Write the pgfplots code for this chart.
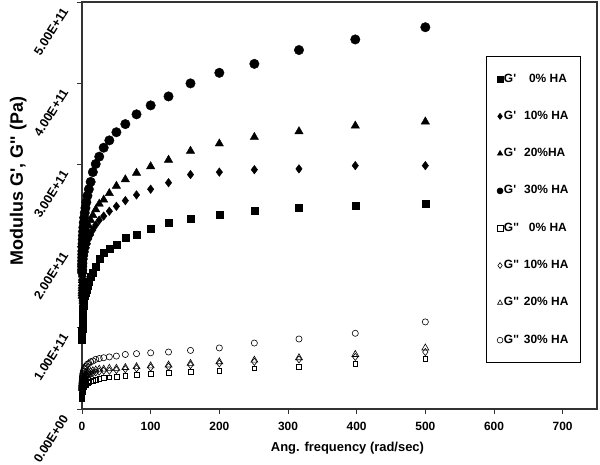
\documentclass[border=0pt]{standalone}
\usepackage{fontspec}
\setmainfont{Liberation Sans}
\usepackage{pgfplots}
\usepackage{pgfplotstable}
\pgfplotsset{compat=1.18}
\newcommand{\q}{\textquotesingle}

% y values in units of 1E+11 Pa
\pgfplotstableread{
f Gp0 Gp10 Gp20 Gp30 Gpp0 Gpp10 Gpp20 Gpp30
500 2.52 2.99 3.53 4.69 0.62 0.70 0.75 1.07
398 2.50 2.99 3.48 4.54 0.56 0.64 0.67 0.93
316 2.47 2.95 3.41 4.41 0.52 0.61 0.63 0.86
251 2.43 2.94 3.34 4.24 0.50 0.58 0.60 0.81
200 2.39 2.91 3.26 4.13 0.47 0.56 0.58 0.75
158 2.34 2.88 3.17 4.00 0.46 0.54 0.56 0.72
126 2.29 2.78 3.06 3.84 0.44 0.52 0.54 0.70
100 2.21 2.70 2.98 3.73 0.43 0.51 0.53 0.69
79.4 2.14 2.63 2.90 3.62 0.42 0.50 0.52 0.68
63.1 2.10 2.56 2.82 3.50 0.41 0.49 0.51 0.67
50.1 2.02 2.49 2.74 3.40 0.40 0.48 0.50 0.65
39.8 1.97 2.43 2.65 3.30 0.39 0.47 0.50 0.64
31.6 1.92 2.37 2.57 3.21 0.38 0.47 0.49 0.63
25.1 1.85 2.32 2.52 3.10 0.37 0.46 0.49 0.62
20.0 1.75 2.26 2.45 3.01 0.36 0.45 0.48 0.61
15.8 1.68 2.20 2.38 2.91 0.35 0.44 0.47 0.59
12.6 1.62 2.14 2.32 2.79 0.34 0.43 0.46 0.58
10.0 1.57 2.09 2.25 2.70 0.33 0.42 0.45 0.56
7.94 1.52 2.03 2.19 2.62 0.32 0.41 0.44 0.55
6.31 1.47 1.98 2.13 2.54 0.31 0.40 0.43 0.53
5.01 1.43 1.93 2.07 2.47 0.30 0.39 0.42 0.52
3.98 1.39 1.88 2.02 2.41 0.29 0.38 0.41 0.50
3.16 1.35 1.84 1.97 2.35 0.28 0.37 0.40 0.49
2.51 1.31 1.79 1.92 2.29 0.27 0.36 0.39 0.47
2.00 1.27 1.75 1.87 2.23 0.26 0.35 0.38 0.46
1.58 1.23 1.71 1.82 2.18 0.25 0.34 0.37 0.44
1.26 1.19 1.67 1.78 2.13 0.24 0.33 0.36 0.43
1.00 1.16 1.63 1.73 2.08 0.23 0.32 0.35 0.41
0.794 1.12 1.59 1.69 2.03 0.22 0.31 0.34 0.40
0.631 1.09 1.55 1.65 1.99 0.21 0.30 0.33 0.38
0.501 1.05 1.52 1.61 1.94 0.20 0.29 0.32 0.37
0.398 1.02 1.48 1.58 1.90 0.19 0.28 0.31 0.35
0.316 0.99 1.45 1.54 1.86 0.18 0.27 0.30 0.34
0.251 0.96 1.42 1.51 1.82 0.17 0.26 0.29 0.32
0.200 0.93 1.39 1.48 1.78 0.16 0.25 0.28 0.31
0.158 0.90 1.36 1.45 1.75 0.15 0.24 0.27 0.29
0.126 0.88 1.33 1.42 1.71 0.14 0.23 0.26 0.28
0.100 0.85 1.30 1.39 1.68 0.13 0.22 0.25 0.26
}\data

\begin{document}
\begin{tikzpicture}
\useasboundingbox (-82bp,-56bp) rectangle (518bp,409bp);
\begin{axis}[
  at={(0,0)}, anchor=south west,
  scale only axis, width=515bp, height=407bp,
  xmin=0, xmax=750, ymin=0, ymax=5,
  xtick={0,100,...,700}, ytick={0,1,...,5},
  yticklabels={0.00E+00,1.00E+11,2.00E+11,3.00E+11,4.00E+11,5.00E+11},
  tick pos=left, tick align=outside, major tick length=5bp,
  axis line style={line width=1.2bp, black!80},
  tick style={line width=0.8bp, black!80},
  clip=false,
  /pgf/number format/assume math mode=true,
  xticklabel style={font=\fontsize{12}{14}\selectfont\bfseries, yshift=-5bp},
  yticklabel style={font=\fontsize{12.5}{14}\selectfont\bfseries, xshift=-10bp, yshift=-4bp, rotate=58, anchor=east},
  xlabel={Ang. frequency (rad/sec)},
  ylabel={Modulus G\q, G\q\q\ (Pa)},
  xlabel style={font=\fontsize{13}{15}\selectfont\bfseries, at={(axis description cs:0.5155,-0.097)}, anchor=center},
  ylabel style={font=\fontsize{18}{20}\selectfont\bfseries, at={(axis description cs:-0.124,0.56)}, anchor=center},
  legend style={at={(rel axis cs:0.784,0.867)}, anchor=north west, draw=black, line width=0.8bp,
    inner xsep=11bp, inner ysep=17bp, row sep=26.3bp,
    font=\fontsize{12}{14}\selectfont\bfseries,
    nodes={inner sep=1bp, text height=7.5bp, text depth=1.5bp}},
  legend cell align=left,
  legend image code/.code={\draw[#1, mark size=2.9bp] plot coordinates {(0cm,0cm)};},
]
\addplot[only marks, mark=square*, mark size=3.5bp, black] table[x=f,y=Gp0]{\data};
\addplot[only marks, mark=diamond*, mark size=4.3bp, black] table[x=f,y=Gp10]{\data};
\addplot[only marks, mark=triangle*, mark size=4.8bp, black] table[x=f,y=Gp20]{\data};
\addplot[only marks, mark=*, mark size=4.75bp, black] table[x=f,y=Gp30]{\data};
\addplot[only marks, mark=square, mark size=2.4bp, black, line width=0.6bp] table[x=f,y=Gpp0]{\data};
\addplot[only marks, mark=diamond, mark size=3.6bp, black, line width=0.6bp] table[x=f,y=Gpp10]{\data};
\addplot[only marks, mark=triangle, mark size=4bp, black, line width=0.6bp] table[x=f,y=Gpp20]{\data};
\addplot[only marks, mark=o, mark size=3.1bp, black, line width=0.6bp] table[x=f,y=Gpp30]{\data};
\legend{G\q\hspace{13bp}0\% HA, G\q\hspace{8bp}10\% HA, G\q\hspace{8bp}20\%HA, G\q\hspace{8bp}30\% HA,
  G\q\q\hspace{10bp}0\% HA, G\q\q\hspace{5bp}10\% HA, G\q\q\hspace{5bp}20\% HA, G\q\q\hspace{5bp}30\% HA}
\end{axis}
\end{tikzpicture}
\end{document}
